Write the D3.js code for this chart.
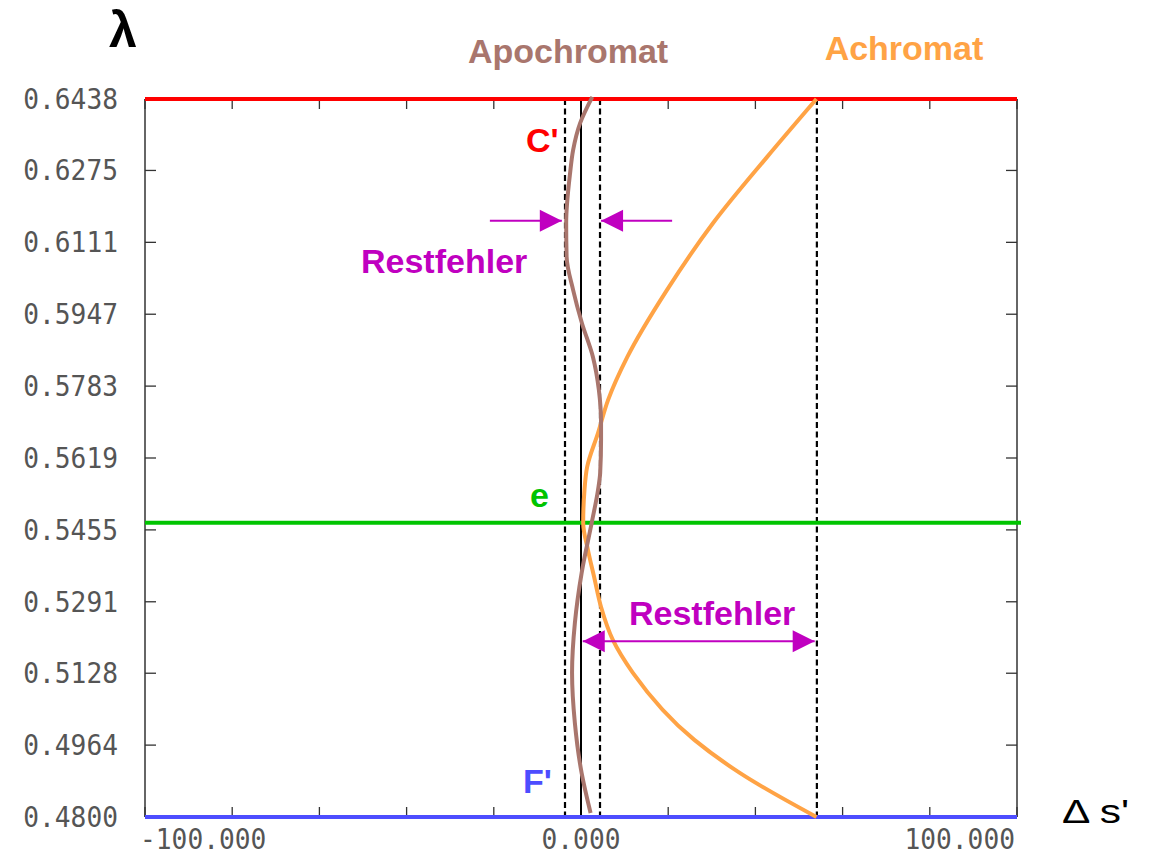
<!DOCTYPE html>
<html>
<head>
<meta charset="utf-8">
<script src="https://cdn.jsdelivr.net/npm/d3@7"></script>
<style>
  body { margin: 0; background: #fff; }
  svg { display: block; }
</style>
</head>
<body>
<svg id="chart" width="1160" height="856"></svg>
<script>
// values
const yTickLabels = ["0.4800", "0.4964", "0.5128", "0.5291", "0.5455", "0.5619",
                     "0.5783", "0.5947", "0.6111", "0.6275", "0.6438"];
const xTicks = [-100, -80, -60, -40, -20, 0, 20, 40, 60, 80, 100];
const xTickLabels = [
  { v: -100, t: "-100.000", anchor: "start" },
  { v: 0, t: "0.000", anchor: "middle" },
  { v: 100, t: "100.000", anchor: "end" }
];

// spectral lines
const lineC = 0.6438, lineE = 0.5471, lineF = 0.4800;

// apochromat: wavelength / delta s'
const apoLambda = [0.6443, 0.6383, 0.6322, 0.6269, 0.6155, 0.6078, 0.6002, 0.5927, 0.5849, 0.5774,
                   0.5699, 0.5660, 0.5585, 0.5546, 0.5471, 0.5357, 0.5243, 0.5129, 0.5014, 0.4900, 0.4809];
const apoDs     = [2.6, -0.2, -1.8, -2.5, -3.4, -3.3, -1.8, 0.2, 2.75, 4.1,
                   4.6, 4.6, 4.4, 3.9, 2.45, 0.15, -1.4, -2.05, -1.4, 0.15, 2.2];

// achromat
const achLambda = [0.6438, 0.6306, 0.6155, 0.6002, 0.5849, 0.5751, 0.5676, 0.5598, 0.5546, 0.5471,
                   0.5409, 0.5348, 0.5279, 0.5204, 0.5129, 0.4976, 0.4900, 0.4800];
const achDs     = [54.0, 42.7, 30.3, 19.7, 10.6, 6.2, 3.9, 1.4, 0.8, 0.5,
                   1.6, 3.0, 4.6, 7.3, 11.9, 26.0, 36.5, 54.0];

// vertical reference lines
const dashedX = [-3.67, 4.36, 54.1];

const colC = "#ff0000", colE = "#00c400", colF = "#4d4dff";
const colApo = "#a9766d", colAch = "#ffa345", colRest = "#c000c0";

const svg = d3.select("#chart");
const plotL = 145, plotR = 1017, plotT = 99, plotB = 817;

const x = d3.scaleLinear().domain([-100, 100]).range([plotL, plotR]);
const y = d3.scaleLinear().domain([0.48, 0.6438]).range([plotB, plotT]);

svg.append("rect").attr("width", 1160).attr("height", 856).attr("fill", "#fff");

// frame sides
svg.append("line").attr("x1", plotL).attr("x2", plotL).attr("y1", plotT).attr("y2", plotB)
  .attr("stroke", "#333").attr("stroke-width", 1.5);
svg.append("line").attr("x1", plotR).attr("x2", plotR).attr("y1", plotT).attr("y2", plotB)
  .attr("stroke", "#333").attr("stroke-width", 1.5);

// ticks
const tickFont = "25px 'DejaVu Sans Mono', monospace";
xTicks.forEach(v => {
  svg.append("line").attr("x1", x(v)).attr("x2", x(v)).attr("y1", plotT).attr("y2", plotT + 10)
    .attr("stroke", "#333").attr("stroke-width", 1.3);
  svg.append("line").attr("x1", x(v)).attr("x2", x(v)).attr("y1", plotB).attr("y2", plotB - 10)
    .attr("stroke", "#333").attr("stroke-width", 1.3);
});
yTickLabels.forEach(t => {
  const yy = y(+t);
  svg.append("line").attr("x1", plotL).attr("x2", plotL + 11).attr("y1", yy).attr("y2", yy)
    .attr("stroke", "#333").attr("stroke-width", 1.3);
  svg.append("line").attr("x1", plotR).attr("x2", plotR - 11).attr("y1", yy).attr("y2", yy)
    .attr("stroke", "#333").attr("stroke-width", 1.3);
  svg.append("text")
    .attr("transform", `translate(118,${yy + 10}) scale(1.05,1.12)`)
    .attr("text-anchor", "end")
    .style("font", tickFont)
    .attr("fill", "#555")
    .text(t);
});
xTickLabels.forEach(d => {
  svg.append("text")
    .attr("transform", `translate(${x(d.v) + (d.anchor === "start" ? -5 : d.anchor === "end" ? -2 : 0)},849) scale(1.05,1.1)`)
    .attr("text-anchor", d.anchor)
    .style("font", tickFont)
    .attr("fill", "#555")
    .text(d.t);
});

// zero line
svg.append("line").attr("x1", x(0)).attr("x2", x(0)).attr("y1", plotT).attr("y2", plotB)
  .attr("stroke", "#000").attr("stroke-width", 2);

// dashed lines
dashedX.forEach(v => {
  svg.append("line").attr("x1", x(v)).attr("x2", x(v)).attr("y1", plotT).attr("y2", plotB + 3)
    .attr("stroke", "#000").attr("stroke-width", 2.2).attr("stroke-dasharray", "6,3.5");
});

// spectral lines
svg.append("line").attr("x1", plotL).attr("x2", plotR).attr("y1", y(lineC)).attr("y2", y(lineC))
  .attr("stroke", colC).attr("stroke-width", 4);
svg.append("line").attr("x1", plotL).attr("x2", plotR + 4).attr("y1", y(lineE)).attr("y2", y(lineE))
  .attr("stroke", colE).attr("stroke-width", 4);
svg.append("line").attr("x1", plotL).attr("x2", plotR).attr("y1", y(lineF)).attr("y2", y(lineF))
  .attr("stroke", colF).attr("stroke-width", 4);

// curves (x as a function of y, so use the y-monotone curve)
const line = d3.line()
  .x(d => x(d[1]))
  .y(d => y(d[0]))
  .curve(d3.curveMonotoneY);

svg.append("path")
  .datum(d3.zip(achLambda, achDs))
  .attr("fill", "none").attr("stroke", colAch).attr("stroke-width", 4)
  .attr("d", line);

svg.append("path")
  .datum(d3.zip(apoLambda, apoDs))
  .attr("fill", "none").attr("stroke", colApo).attr("stroke-width", 4)
  .attr("d", line);

// arrows
function arrow(x1, x2, yy, heads) {
  const g = svg.append("g").attr("fill", colRest).attr("stroke", colRest);
  g.append("line").attr("x1", x1).attr("x2", x2).attr("y1", yy).attr("y2", yy).attr("stroke-width", 2);
  heads.forEach(h => {
    const tip = h === "end" ? x2 : x1;
    const dir = h === "end" ? (x2 > x1 ? 1 : -1) : (x1 > x2 ? 1 : -1);
    g.append("path")
      .attr("stroke", "none")
      .attr("d", `M${tip},${yy} L${tip - dir * 22},${yy - 11} L${tip - dir * 22},${yy + 11} Z`);
  });
}
const yUpper = 0.6160, yLower = 0.5201;
arrow(x(-20.9), x(-4.4), y(yUpper), ["end"]);
arrow(x(20.9), x(4.6), y(yUpper), ["end"]);
arrow(x(0.4), x(53.6), y(yLower), ["start", "end"]);

// labels
const bold = "bold 34px 'Liberation Sans', Arial, sans-serif";
svg.append("text").attr("x", 568).attr("y", 63).attr("text-anchor", "middle")
  .style("font", bold).attr("fill", colApo).text("Apochromat");
svg.append("text").attr("x", 904).attr("y", 60).attr("text-anchor", "middle")
  .style("font", bold).attr("fill", colAch).text("Achromat");
svg.append("text").attr("x", 526).attr("y", 152)
  .style("font", bold).attr("fill", colC).text("C'");
svg.append("text").attr("x", 530).attr("y", 507)
  .style("font", bold).attr("fill", colE).text("e");
svg.append("text").attr("x", 523).attr("y", 793)
  .style("font", bold).attr("fill", colF).text("F'");
svg.append("text").attr("x", 361).attr("y", 273)
  .style("font", bold).attr("fill", colRest).text("Restfehler");
svg.append("text").attr("x", 629).attr("y", 625)
  .style("font", bold).attr("fill", colRest).text("Restfehler");

svg.append("text").attr("x", 123).attr("y", 47).attr("text-anchor", "middle")
  .style("font", "bold 50px 'Liberation Sans', Arial, sans-serif").attr("fill", "#000").text("λ");
svg.append("text").attr("transform", "translate(1062,823) scale(1.25,1)")
  .style("font", "34px 'Liberation Sans', Arial, sans-serif").attr("fill", "#000").text("Δ s'");
</script>
</body>
</html>
